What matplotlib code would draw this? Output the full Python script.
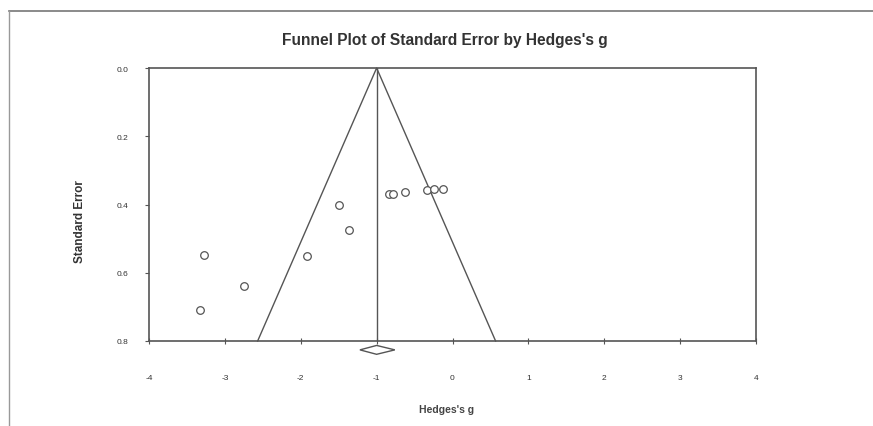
import matplotlib
matplotlib.use("Agg")
import matplotlib.pyplot as plt
from matplotlib.lines import Line2D
from matplotlib.patches import Polygon
import numpy as np

plt.rcParams['font.family'] = ['Liberation Sans', 'DejaVu Sans']

# Study effect sizes (Hedges's g) and standard errors
hedges_g = [-3.28, -3.33, -2.75, -1.92, -1.49, -1.36, -0.84, -0.78, -0.63, -0.34, -0.25, -0.13]
std_err = [0.548, 0.709, 0.639, 0.551, 0.401, 0.475, 0.369, 0.369, 0.363, 0.357, 0.355, 0.354]
pooled_g = -1.0
pooled_ci = [-1.22, -0.76]
x_ticks = [-4, -3, -2, -1, 0, 1, 2, 3, 4]
y_ticks = [0.0, 0.2, 0.4, 0.6, 0.8]

W, H = 873, 427
fig = plt.figure(figsize=(W / 100, H / 100), dpi=100)
ax = fig.add_axes([149 / W, (H - 342) / H, (756 - 149) / W, (342 - 69) / H])

line_col = '#555555'
# funnel
se_max = 0.8
ax.plot([pooled_g - 1.96 * se_max, pooled_g, pooled_g + 1.96 * se_max], [se_max, 0, se_max],
        color=line_col, lw=1.0, clip_on=False)
ax.plot([pooled_g, pooled_g], [0, se_max], color=line_col, lw=1.0)

ax.scatter(hedges_g, std_err, s=30, facecolors='white', edgecolors='#555555', linewidths=0.9, zorder=3)

# pooled diamond below axis
dy = 0.013
yc = 0.826
diamond = Polygon([[pooled_ci[0], yc], [pooled_g, yc - dy], [pooled_ci[1], yc], [pooled_g, yc + dy]],
                  closed=True, facecolor='white', edgecolor=line_col, lw=1.0, clip_on=False, zorder=4)
ax.add_patch(diamond)

ax.set_xlim(-4, 4)
ax.set_ylim(0.8, 0.0)
ax.set_xticks(x_ticks)
ax.set_xticklabels([str(t) for t in x_ticks])
ax.set_yticks(y_ticks)
ax.set_yticklabels([f"{t:.1f}" for t in y_ticks])
ax.tick_params(axis='x', direction='inout', length=4, width=0.8, colors=line_col, labelsize=6, pad=22, labelcolor='#333333')
ax.tick_params(axis='y', direction='out', length=3, width=0.8, colors=line_col, labelsize=6, pad=12, labelcolor='#333333')
for sp in ax.spines.values():
    sp.set_color(line_col)
    sp.set_linewidth(1.2)

ax.set_xlabel("Hedges's g", fontsize=7.5, fontweight='bold', color='#444444')
ax.xaxis.set_label_coords((447 - 149) / 607, -(410 - 342) / 273)
ax.xaxis.label.set_va('center')
ax.set_ylabel("Standard Error", fontsize=8.5, fontweight='bold', color='#333333')
ax.yaxis.set_label_coords((80 - 149) / 607, (342 - 222) / 273)
ax.yaxis.label.set_va('center')
fig.text(445 / W, 1 - 40 / H, "Funnel Plot of Standard Error by Hedges's g", fontsize=11.2,
         fontweight='bold', color='#333333', ha='center', va='center')

# outer frame lines (screenshot border)
fig.add_artist(Line2D([9 / W, 1.0], [(H - 12) / H, (H - 12) / H], color='#777777', lw=1.2))
fig.add_artist(Line2D([9 / W, 9 / W], [0.0, (H - 12) / H], color='#999999', lw=1.0))

fig.savefig("out.png", dpi=100)
